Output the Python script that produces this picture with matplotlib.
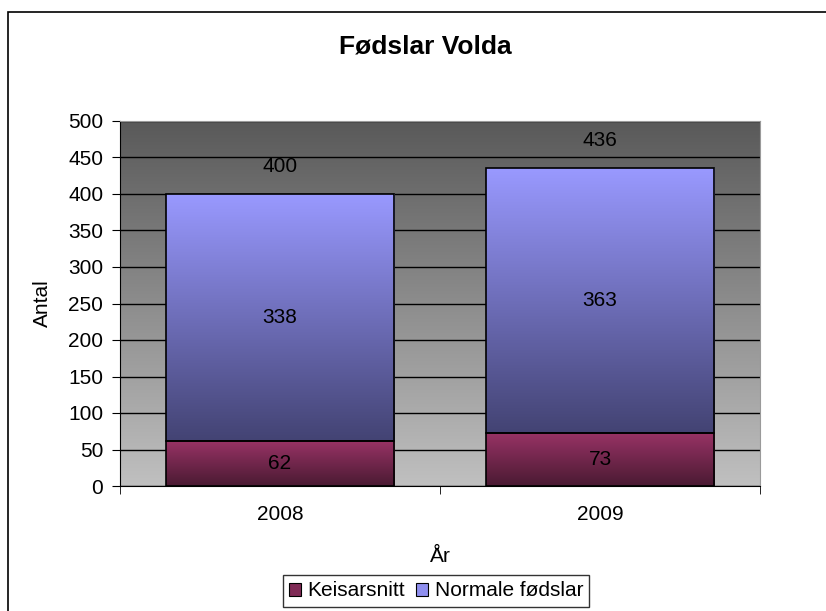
import numpy as np
import matplotlib
matplotlib.use('Agg')
import matplotlib.pyplot as plt
from matplotlib.colors import LinearSegmentedColormap
from matplotlib.patches import Rectangle, Patch

plt.rcParams['font.family'] = ['Liberation Sans', 'DejaVu Sans']

years = ['2008', '2009']
keisarsnitt = [62, 73]
normale = [338, 363]
totals = [400, 436]

FS = 15


def gradient(ax, x0, x1, y0, y1, c_top, c_bot, z, **kw):
    cmap = LinearSegmentedColormap.from_list('g', [c_bot, c_top])
    ax.imshow(np.linspace(0, 1, 256).reshape(-1, 1), extent=(x0, x1, y0, y1),
              origin='lower', cmap=cmap, aspect='auto', zorder=z,
              interpolation='bilinear', **kw)


fig = plt.figure(figsize=(8.26, 6.11), dpi=100)
ax = fig.add_axes([120 / 826, 1 - 486 / 611, 640 / 826, 365 / 611])

# plot-area background
gradient(ax, 0, 1, 0, 1, '#595959', '#c0c0c0', 0, transform=ax.transAxes)

x = np.arange(len(years))
w = 0.715
b1 = ax.bar(x, keisarsnitt, w, fill=False, edgecolor='black', lw=1.2, zorder=3)
b2 = ax.bar(x, normale, w, bottom=keisarsnitt, fill=False, edgecolor='black', lw=1.2, zorder=3)
for p in b1:
    gradient(ax, p.get_x(), p.get_x() + p.get_width(), p.get_y(), p.get_y() + p.get_height(),
             '#993366', '#4a1a32', 2)
for p in b2:
    gradient(ax, p.get_x(), p.get_x() + p.get_width(), p.get_y(), p.get_y() + p.get_height(),
             '#9999ff', '#434373', 2)

for i in range(len(years)):
    ax.text(x[i], keisarsnitt[i] / 2, str(keisarsnitt[i]), ha='center', va='center', fontsize=FS, zorder=4)
    ax.text(x[i], keisarsnitt[i] + normale[i] / 2, str(normale[i]), ha='center', va='center', fontsize=FS, zorder=4)
    ax.annotate(str(totals[i]), (x[i], totals[i]), xytext=(0, 27), textcoords='offset pixels',
                ha='center', va='center', fontsize=FS, zorder=4)

ax.set_xlim(-0.5, 1.5)
ax.set_ylim(0, 500)
ax.set_yticks(np.arange(0, 501, 50))
ax.set_xticks(x)
ax.set_xticklabels(years)
ax.set_xticks([-0.5, 0.5, 1.5], minor=True)
ax.tick_params(axis='x', which='major', length=0, pad=14, labelsize=FS)
ax.tick_params(axis='x', which='minor', length=6, direction='out', color='black')
ax.tick_params(axis='y', length=6, direction='out', labelsize=FS, pad=6)
ax.set_axisbelow(True)
ax.yaxis.grid(True, color='black', lw=1)

for s in ['left', 'bottom']:
    ax.spines[s].set_color('black')
for s in ['top', 'right']:
    ax.spines[s].set_color('#9a9a9a')

ax.set_xlabel('År', fontsize=FS, labelpad=16)
ax.set_ylabel('Antal', fontsize=FS, labelpad=12)

fig.text(425 / 826, 1 - 47 / 611, 'Fødslar Volda', ha='center', va='center',
         fontsize=19, fontweight='bold')

handles = [Patch(facecolor='#7f2a55', edgecolor='black', lw=0.8, label='Keisarsnitt'),
           Patch(facecolor='#8f8fef', edgecolor='black', lw=0.8, label='Normale fødslar')]
leg = fig.legend(handles=handles, loc='center', bbox_to_anchor=(436 / 826, 1 - 591 / 611),
                 ncol=2, fontsize=FS, frameon=True, fancybox=False, edgecolor='black',
                 handlelength=0.6, handleheight=0.6, handletextpad=0.3, columnspacing=0.5,
                 borderpad=0.3, borderaxespad=0)
leg.get_frame().set_linewidth(1)

fig.patches.append(Rectangle((8 / 826, -0.1), 1.0, 1 - 12 / 611 + 0.1, transform=fig.transFigure,
                             fill=False, edgecolor='black', lw=1.2))

fig.savefig('out.png', dpi=100)
